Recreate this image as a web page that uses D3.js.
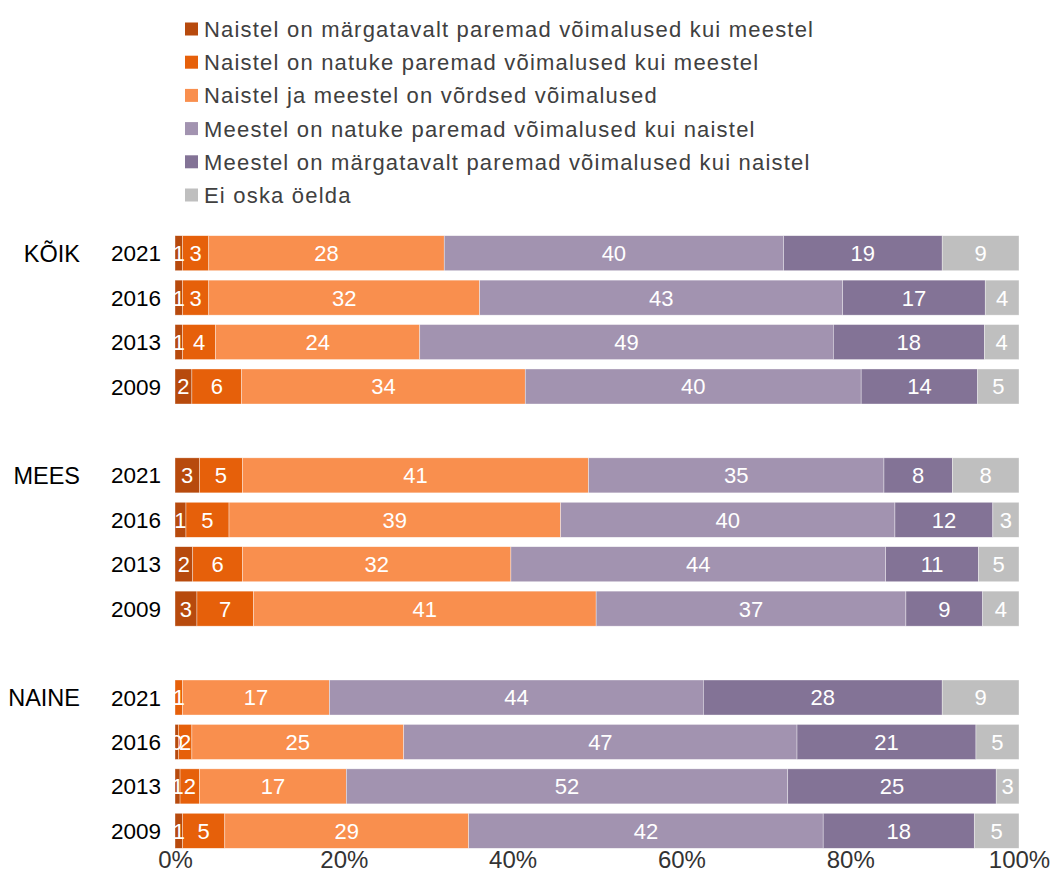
<!DOCTYPE html>
<html>
<head>
<meta charset="utf-8">
<script src="https://cdn.jsdelivr.net/npm/d3@7"></script>
<style>
  html, body { margin: 0; padding: 0; background: #fff; }
  svg { display: block; font-family: "Liberation Sans", Arial, sans-serif; }
</style>
</head>
<body>
<svg id="chart" width="1052" height="893"></svg>
<script>
// ---- data ----
const seriesNames = [
  "Naistel on märgatavalt paremad võimalused kui meestel",
  "Naistel on natuke paremad võimalused kui meestel",
  "Naistel ja meestel on võrdsed võimalused",
  "Meestel on natuke paremad võimalused kui naistel",
  "Meestel on märgatavalt paremad võimalused kui naistel",
  "Ei oska öelda"
];
const groups = ["KÕIK", "MEES", "NAINE"];
const years = ["2021", "2016", "2013", "2009"];
// rows in order: KÕIK 2021..2009, MEES 2021..2009, NAINE 2021..2009
const naistelMargatavalt = [0.9, 0.9, 0.9, 2.0, 2.9, 1.3, 2.1, 2.6, 0, 0.4, 0.6, 0.9];
const naistelNatuke      = [3.1, 3.1, 3.9, 5.9, 5.1, 5.1, 5.9, 6.7, 0.9, 1.6, 2.3, 5.0];
const vordsed            = [27.9, 32.1, 24.2, 33.6, 41.0, 39.3, 31.8, 40.6, 17.4, 25.1, 17.4, 28.9];
const meestelNatuke      = [40.2, 43.0, 49.0, 39.8, 35.0, 39.6, 44.4, 36.7, 44.3, 46.6, 52.3, 42.0];
const meestelMargatavalt = [18.8, 16.9, 17.9, 13.8, 8.1, 11.6, 11.0, 9.1, 28.3, 21.2, 24.7, 17.9];
const eiOska             = [9.1, 4.0, 4.1, 4.9, 7.9, 3.1, 4.8, 4.3, 9.1, 5.1, 2.7, 5.3];
const xTicks = [0, 20, 40, 60, 80, 100];
const colors = ["#B74A0D", "#E6600A", "#F98F4E", "#A293B0", "#837396", "#BFBFBF"];

const seriesValues = [naistelMargatavalt, naistelNatuke, vordsed, meestelNatuke, meestelMargatavalt, eiOska];

// build table
const rows = [];
groups.forEach((g, gi) => {
  years.forEach((y, yi) => {
    const idx = gi * years.length + yi;
    const r = { key: g + "-" + y, group: g, year: y, first: yi === 0 };
    seriesValues.forEach((arr, si) => { r["s" + si] = arr[idx]; });
    rows.push(r);
  });
});
const seriesKeys = seriesNames.map((d, i) => "s" + i);

// y domain with spacer rows between groups
const yDomain = [];
groups.forEach((g, gi) => {
  years.forEach(y => yDomain.push(g + "-" + y));
  if (gi < groups.length - 1) yDomain.push("gap" + gi);
});

const svg = d3.select("#chart");

const x = d3.scaleLinear().domain([0, 100]).range([175, 1019]);
const step = 44.43;
const pInner = 0.212;
const y = d3.scaleBand()
  .domain(yDomain)
  .range([235.7, 235.7 + step * (yDomain.length - pInner)])
  .paddingInner(pInner)
  .paddingOuter(0);

const stack = d3.stack().keys(seriesKeys);
const stacked = stack(rows);

const layers = svg.append("g").selectAll("g.layer")
  .data(stacked)
  .join("g")
  .attr("class", "layer")
  .attr("fill", (d, i) => colors[i]);

layers.selectAll("rect")
  .data(d => d.map(p => ({ p, key: d.key })))
  .join("rect")
  .attr("x", d => x(d.p[0]))
  .attr("y", d => y(d.p.data.key))
  .attr("width", d => Math.max(0, x(d.p[1]) - x(d.p[0])))
  .attr("height", y.bandwidth())
  .attr("stroke", "#fff")
  .attr("stroke-width", 0.6)
  .attr("stroke-opacity", 0.6);

// value labels
const labelG = svg.append("g")
  .attr("font-size", 22)
  .attr("fill", "#fff")
  .attr("text-anchor", "middle");

stacked.forEach((layer) => {
  layer.forEach(p => {
    const v = p[1] - p[0];
    if (v <= 0) return;
    labelG.append("text")
      .attr("x", x((p[0] + p[1]) / 2))
      .attr("y", y(p.data.key) + y.bandwidth() / 2)
      .attr("dy", "0.36em")
      .text(Math.round(v));
  });
});

// year labels
svg.append("g")
  .attr("font-size", 22.5)
  .attr("fill", "#000")
  .attr("text-anchor", "end")
  .selectAll("text")
  .data(rows)
  .join("text")
  .attr("x", 161)
  .attr("y", d => y(d.key) + y.bandwidth() / 2)
  .attr("dy", "0.36em")
  .text(d => d.year);

// group labels
svg.append("g")
  .attr("font-size", 23.5)
  .attr("fill", "#000")
  .attr("text-anchor", "end")
  .selectAll("text")
  .data(rows.filter(r => r.first))
  .join("text")
  .attr("x", 80)
  .attr("y", d => y(d.key) + y.bandwidth() / 2)
  .attr("dy", "0.36em")
  .text(d => d.group);

// x axis (labels only)
const xAxis = d3.axisBottom(x)
  .tickValues(xTicks)
  .tickFormat(d => d + "%")
  .tickSize(0)
  .tickPadding(0);
const axisG = svg.append("g")
  .attr("transform", "translate(0,851)")
  .call(xAxis);
axisG.select(".domain").remove();
axisG.selectAll("text")
  .attr("font-size", 24)
  .attr("font-family", "Liberation Sans, Arial, sans-serif")
  .attr("fill", "#333");

// legend
const legend = svg.append("g").attr("font-size", 22).attr("fill", "#404040")
  .attr("letter-spacing", "1.2px");
const legItems = legend.selectAll("g")
  .data(seriesNames)
  .join("g")
  .attr("transform", (d, i) => `translate(185,${29 + i * 33.2})`);
legItems.append("rect")
  .attr("x", 0)
  .attr("y", -6.5)
  .attr("width", 13)
  .attr("height", 13)
  .attr("fill", (d, i) => colors[i]);
legItems.append("text")
  .attr("x", 19)
  .attr("y", 0)
  .attr("dy", "0.36em")
  .text(d => d);
</script>
</body>
</html>
